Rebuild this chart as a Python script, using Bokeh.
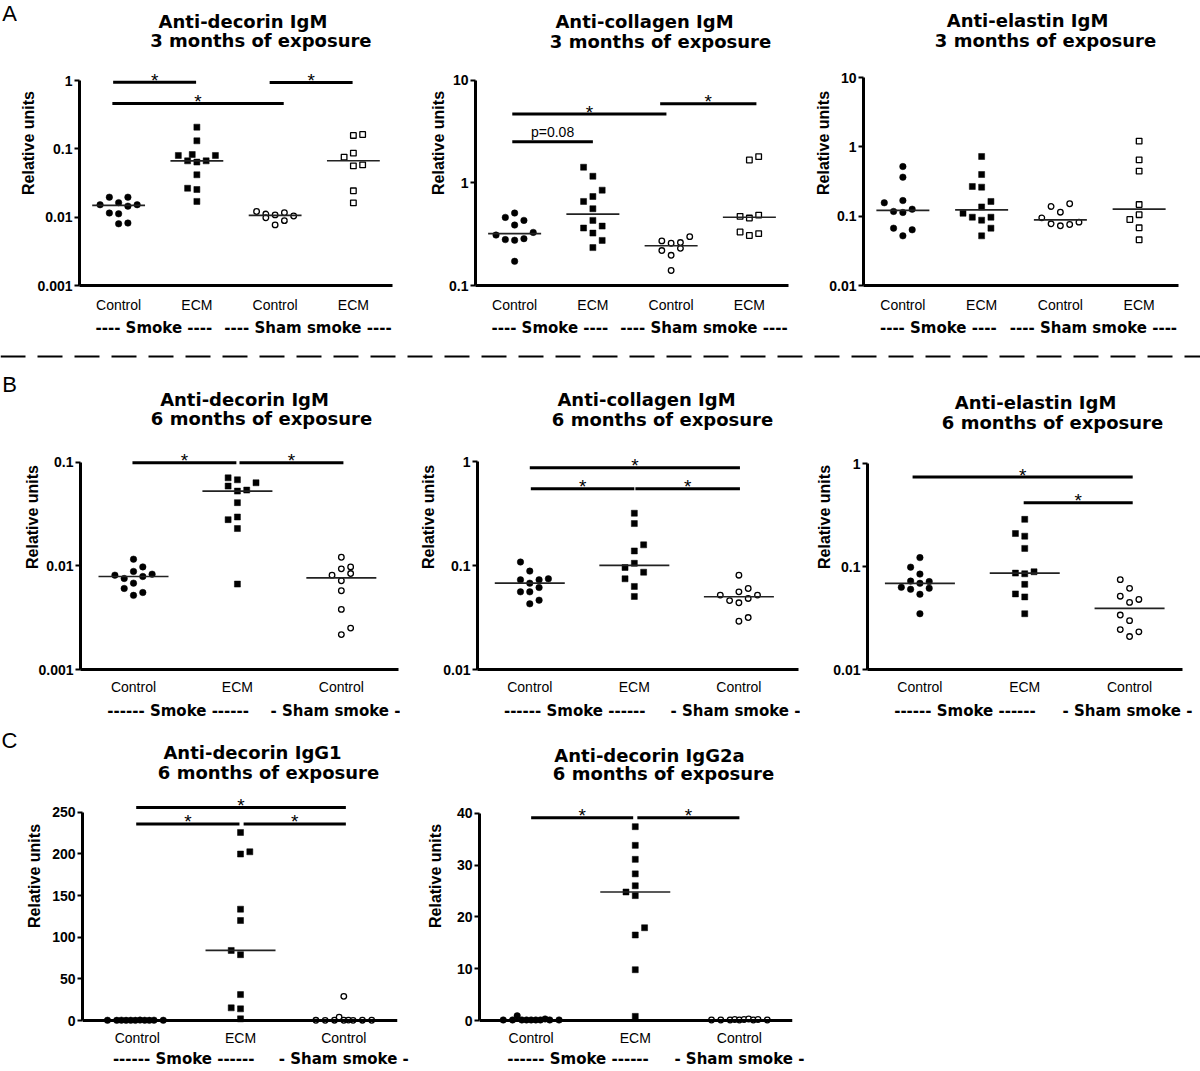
import numpy as np
from bokeh.plotting import figure
from bokeh.models import Range1d, LinearAxis, LogAxis, FixedTicker, Label, Span, CustomJSTickFormatter
from bokeh.layouts import column, row
from bokeh.embed import file_html
from bokeh.resources import INLINE
from bokeh.core.properties import value

# ---------------------------------------------------------------- DATA
CAT4 = ["Control", "ECM", "Control", "ECM"]
CAT3 = ["Control", "ECM", "Control"]
GROUPS_A = ["---- Smoke ----", "---- Sham smoke ----"]
GROUPS_A_POS = [1.45, 3.42]
GROUPS_BC = ["------ Smoke ------", "- Sham smoke -"]
GROUPS_B_POS = [1.43, 2.98]
GROUPS_C_POS = [1.45, 3.0]

# A1  Anti-decorin IgM, 3 months
a1_ctrl = [0.0196, 0.0196, 0.0152, 0.0163, 0.0145, 0.0152, 0.0115, 0.0112, 0.0080, 0.0082]
a1_ctrl_dx = [-1, 1, -2, 0, 1, 2, -1, 0, 0, 1]
a1_ecm = [0.2075, 0.131, 0.080, 0.0826, 0.080, 0.0667, 0.064, 0.0667, 0.0417, 0.0265, 0.0254, 0.0170]
a1_ecm_dx = [0, 0, -2, -0.5, 2, -1, 0, 1, 0, -1, 0, 0]
a1_sham_ctrl = [0.0121, 0.0111, 0.0098, 0.0108, 0.0116, 0.0104, 0.0077, 0.0089]
a1_sham_ctrl_dx = [-2, -1, -1, 0, 1, 2, 0, 1]
a1_sham_ecm = [0.157, 0.162, 0.0755, 0.0865, 0.0564, 0.0583, 0.0243, 0.0162]
a1_sham_ecm_dx = [0, 1, -1, 0, 0, 1, 0, 0]
a1_sig = [(0.93, 1.99, 0.944, "*"), (0.92, 3.11, 0.46, "*"), (2.93, 3.99, 0.935, "*")]

# A2  Anti-collagen IgM, 3 months
a2_ctrl = [0.508, 0.461, 0.431, 0.388, 0.310, 0.329, 0.280, 0.276, 0.286, 0.172]
a2_ctrl_dx = [0, -1, 1, 0, -2, 2, -1, 0, 1, 0]
a2_ecm = [1.42, 1.16, 0.849, 0.736, 0.659, 0.560, 0.431, 0.379, 0.363, 0.324, 0.275, 0.234]
a2_ecm_dx = [-1, 0, 1, 0, -1, 0, 0, 1, -1, 0, 1, 0]
a2_sham_ctrl = [0.299, 0.272, 0.258, 0.262, 0.219, 0.230, 0.197, 0.140]
a2_sham_ctrl_dx = [2, -1, 0, 1, -1, 1, 0, 0]
a2_sham_ecm = [1.67, 1.80, 0.471, 0.454, 0.485, 0.332, 0.307, 0.320]
a2_sham_ecm_dx = [0, 1, -1, 0, 1, -1, 0, 1]
a2_sig = [(0.97, 2.0, 2.52, "p=0.08"), (0.97, 2.94, 4.68, "*"), (2.86, 4.09, 5.89, "*")]

# A3  Anti-elastin IgM, 3 months
a3_ctrl = [0.520, 0.365, 0.156, 0.168, 0.117, 0.113, 0.126, 0.0671, 0.0636, 0.052]
a3_ctrl_dx = [0, 0, -2, 0, -1, 0, 1, -1, 1, 0]
a3_ecm = [0.726, 0.399, 0.268, 0.262, 0.163, 0.136, 0.110, 0.0966, 0.0875, 0.0966, 0.0671, 0.052]
a3_ecm_dx = [0, 0, -1, 0, 1, 0, -2, -1, 0, 1, 1, 0]
a3_sham_ctrl = [0.138, 0.151, 0.114, 0.0946, 0.0776, 0.0726, 0.0758, 0.0819]
a3_sham_ctrl_dx = [-1, 1, 0, -2, -1, 0, 1, 2]
a3_sham_ecm = [1.21, 0.649, 0.446, 0.147, 0.105, 0.0895, 0.0679, 0.0456]
a3_sham_ecm_dx = [0, 0, 0, 0, 0, -1, 0, 0]
a3_sig = []

# B1  Anti-decorin IgM, 6 months
b1_ctrl = [0.01159, 0.00883, 0.00977, 0.00813, 0.00755, 0.00789, 0.00831, 0.00605, 0.00681, 0.00519, 0.00553]
b1_ctrl_dx = [0, 0, 1, -2, -1, 1, 2, -1, 0, 0, 1]
b1_ecm = [0.0706, 0.0676, 0.0633, 0.0588, 0.0526, 0.0538, 0.0407, 0.0279, 0.0296, 0.0229, 0.00667]
b1_ecm_dx = [-1, 0, 2, -1, 0, 1, 0, -1, 0, 0, 0]
b1_sham_ctrl = [0.0121, 0.00935, 0.00977, 0.00813, 0.00843, 0.00718, 0.00575, 0.0038, 0.00251, 0.00217]
b1_sham_ctrl_dx = [0, 0, 1, -1, 1, 0, 0, 0, 1, 0]
b1_sig = [(0.99, 1.99, 0.099, "*"), (2.02, 3.02, 0.099, "*")]

# B2  Anti-collagen IgM, 6 months
b2_ctrl = [0.108, 0.0883, 0.0728, 0.0728, 0.0745, 0.0676, 0.0614, 0.0558, 0.0558, 0.0428, 0.0464]
b2_ctrl_dx = [-1, 0, -1, 1, 2, 0, 1, -1, 0, 0, 1]
b2_ecm = [0.318, 0.253, 0.158, 0.138, 0.105, 0.0957, 0.0862, 0.0745, 0.0629, 0.0504]
b2_ecm_dx = [0, 0, 1, 0, 0, -1, 1, -1, 0, 0]
b2_sham_ctrl = [0.0807, 0.0601, 0.0558, 0.0519, 0.0519, 0.046, 0.0482, 0.0438, 0.0291, 0.0316]
b2_sham_ctrl_dx = [0, 1, 0, -2, 2, -1, 1, 0, 0, 1]
b2_sig = [(1.0, 3.01, 0.87, "*"), (1.01, 2.0, 0.546, "*"), (2.01, 3.01, 0.546, "*")]

# B3  Anti-elastin IgM, 6 months
b3_ctrl = [0.122, 0.0986, 0.0844, 0.0722, 0.0714, 0.0687, 0.0628, 0.0601, 0.0615, 0.0538, 0.0348]
b3_ctrl_dx = [0, -1, 0, -1, 1, 0, -2, -1, 1, 0, 0]
b3_ecm = [0.287, 0.209, 0.197, 0.150, 0.0863, 0.085, 0.0889, 0.0671, 0.0542, 0.0507, 0.0348]
b3_ecm_dx = [0, -1, 0, 0, -1, 0, 1, 0, -1, 0, 0]
b3_sham_ctrl = [0.0745, 0.0614, 0.0515, 0.0479, 0.0448, 0.0338, 0.0298, 0.0244, 0.0232, 0.0209]
b3_sham_ctrl_dx = [-1, 0, -1, 1, 0, -1, 0, -1, 1, 0]
b3_sig = [(0.93, 3.03, 0.739, "*"), (1.99, 3.03, 0.415, "*")]

# C1  Anti-decorin IgG1, 6 months
c1_ctrl = [0.3, 0.2, 0.4, 0.2, 0.3, 0.2, 0.5, 0.3, 0.2, 0.4, 0.3]
c1_ctrl_dx = [-3.2, -2.2, -1.7, -1.2, -0.7, -0.2, 0.3, 0.8, 1.3, 1.8, 2.8]
c1_ecm = [225.7, 199.8, 202.5, 133.6, 120.0, 84.1, 79.0, 31.1, 15.2, 14.0, 2.0]
c1_ecm_dx = [0, 0, 1, 0, 0, -1, 0, 0, -1, 0, 0]
c1_sham_ctrl = [0.3, 0.2, 0.4, 4.0, 0.3, 0.5, 0.2, 0.4, 0.3, 29.0]
c1_sham_ctrl_dx = [-3, -2, -1, -0.5, 0, 0.5, 1, 2, 3, 0]
c1_sig = [(0.99, 3.02, 255.6, "*"), (0.99, 1.99, 236.0, "*"), (2.03, 3.02, 236.0, "*")]

# C2  Anti-decorin IgG2a, 6 months
c2_ctrl = [0.1, 0.1, 0.9, 0.1, 0.1, 0.1, 0.1, 0.1, 0.3, 0.1, 0.1]
c2_ctrl_dx = [-3, -2, -1.5, -1, -0.5, 0, 0.5, 1, 1.5, 2, 3]
c2_ecm = [37.4, 33.8, 31.1, 28.3, 26.0, 24.8, 24.1, 17.9, 16.5, 9.8, 0.8]
c2_ecm_dx = [0, 0, 0, 0, 0, -1, 0, 1, 0, 0, 0]
c2_sham_ctrl = [0.1, 0.1, 0.1, 0.2, 0.1, 0.2, 0.3, 0.1, 0.2, 0.1]
c2_sham_ctrl_dx = [-3, -2, -1, -0.5, 0, 0.5, 1, 1.5, 2, 3]
c2_sig = [(1.0, 1.98, 39.1, "*"), (2.02, 3.0, 39.1, "*")]

# ---------------------------------------------------------------- STYLE
FONT = "Liberation Sans"
WIDE = "DejaVu Sans"
STEP_PX = 9.3
LETTER_W = 17


def lookup_formatter(ticks, labels):
    return CustomJSTickFormatter(
        args=dict(vals=[float(t) for t in ticks], labels=list(labels)),
        code="for (let i = 0; i < vals.length; i++) { if (Math.abs(vals[i] - tick) < 1e-6) { return labels[i]; } } return '';")


def bare_figure(w, h, xr, yr):
    f = figure(width=w, height=h, x_range=Range1d(*xr), y_range=Range1d(*yr),
               x_axis_location=None, y_axis_location=None, toolbar_location=None,
               output_backend="svg", title=None,
               min_border_left=0, min_border_right=0, min_border_top=0, min_border_bottom=0)
    f.outline_line_color = None
    f.grid.visible = False
    return f


def letter_fig(h, y, txt):
    f = bare_figure(LETTER_W, h, (0, LETTER_W), (h, 0))
    f.text(x=[9], y=[y], text=[txt], text_font=value(FONT), text_font_size="22px",
           text_align="center", text_baseline="middle", text_color="black")
    return f


def panel(g, titles, yticks, groups, cats, grp_labels, grp_pos, sig):
    fl, fr = g["left"], g["right"]
    x0, x1 = g["xr"]
    ppu = (fr - fl) / (x1 - x0)

    def xd(px):
        return x0 + (px - fl) / ppu

    lo, hi = g["lo"], g["hi"]
    zero = g["zero"]
    if g["log"]:
        lt, ht = np.log10(lo), np.log10(hi)
        ppd = (zero - g["top"]) / (ht - lt)

        def yd(px):
            return 10 ** (lt + (zero - px) / ppd)

        def yp(v):
            return zero - (np.log10(v) - lt) * ppd
    else:
        ppd = (zero - g["top"]) / (hi - lo)

        def yd(px):
            return lo + (zero - px) / ppd

        def yp(v):
            return zero - (v - lo) * ppd

    bottom = g.get("bottom", zero)
    p = figure(width=g["w"], height=g["h"],
               x_range=Range1d(x0, x1), y_range=Range1d(yd(bottom), yd(g["cy"])),
               y_axis_type="log" if g["log"] else "linear",
               x_axis_location=None, y_axis_location=None,
               toolbar_location=None, output_backend="svg", title=None,
               min_border_left=int(fl - g["cx"]), min_border_right=int(g["cx"] + g["w"] - fr),
               min_border_top=0, min_border_bottom=int(g["cy"] + g["h"] - bottom))
    p.outline_line_color = None
    p.grid.visible = False

    # y axis
    AxisCls = LogAxis if g["log"] else LinearAxis
    ya = AxisCls(ticker=FixedTicker(ticks=yticks), bounds=(lo, hi))
    if g["log"]:
        ya.formatter = CustomJSTickFormatter(code="return String(tick);")
    ya.axis_label = "Relative units"
    ya.axis_label_text_font = FONT
    ya.axis_label_text_font_style = "bold"
    ya.axis_label_text_font_size = "16px"
    ya.axis_label_text_color = "black"
    ya.axis_label_standoff = g["ylab_so"]
    ya.major_label_text_font = FONT
    ya.major_label_text_font_style = "bold"
    ya.major_label_text_font_size = "14px"
    ya.major_label_text_color = "black"
    ya.major_label_standoff = 2
    ya.major_tick_out = 5
    ya.major_tick_in = 0
    ya.major_tick_line_width = 2
    ya.major_tick_line_color = "black"
    ya.minor_tick_out = 0
    ya.minor_tick_in = 0
    ya.axis_line_width = 3
    ya.axis_line_color = "black"
    p.add_layout(ya, "left")

    # category axis
    n = len(cats)
    cticks = list(range(1, n + 1))
    xa = LinearAxis(ticker=FixedTicker(ticks=cticks), formatter=lookup_formatter(cticks, cats))
    xa.major_tick_in = 0
    xa.major_tick_out = 0
    xa.minor_tick_in = 0
    xa.minor_tick_out = 0
    xa.major_label_standoff = g["cat_so"]
    xa.major_label_text_font = FONT
    xa.major_label_text_font_size = "14px"
    xa.major_label_text_color = "black"
    if g["log"]:
        xa.axis_line_width = 3
        xa.axis_line_color = "black"
    else:
        xa.axis_line_color = None
    p.add_layout(xa, "below")

    ga = LinearAxis(ticker=FixedTicker(ticks=grp_pos), formatter=lookup_formatter(grp_pos, grp_labels))
    ga.axis_line_color = None
    ga.major_tick_in = 0
    ga.major_tick_out = 0
    ga.minor_tick_in = 0
    ga.minor_tick_out = 0
    ga.major_label_standoff = g["grp_so"]
    ga.major_label_text_font = WIDE
    ga.major_label_text_font_style = "bold"
    ga.major_label_text_font_size = "15px"
    ga.major_label_text_color = "black"
    p.add_layout(ga, "below")

    if not g["log"]:
        za = LinearAxis(ticker=FixedTicker(ticks=[]), fixed_location=lo)
        za.axis_line_width = 3
        za.axis_line_color = "black"
        za.major_tick_in = 0
        za.major_tick_out = 0
        za.minor_tick_in = 0
        za.minor_tick_out = 0
        za.major_label_standoff = 0
        za.major_label_text_font_size = "0px"
        p.add_layout(za, "below")

    # points + median lines
    mhw = g["med_hw"] / ppu
    for gi, (vals, dx, marker, filled) in enumerate(groups):
        c = gi + 1
        xs = [c + d * STEP_PX / ppu for d in dx]
        if filled:
            p.scatter(xs, vals, marker=marker, size=6.5 if marker == "circle" else 6,
                      fill_color="black", line_color="black", line_width=0.5)
        else:
            p.scatter(xs, vals, marker=marker, size=5.6,
                      fill_color="white", line_color="black", line_width=1.3)
        med = float(np.median(vals))
        p.segment(x0=[c - mhw], x1=[c + mhw], y0=[med], y1=[med], line_width=1.7, line_color="#222222")

    # significance bars
    for (xa0, xa1, yv, txt) in sig:
        p.segment(x0=[xa0], x1=[xa1], y0=[yv], y1=[yv], line_width=3, line_color="black")
        if txt == "*":
            ty = yd(yp(yv) - 2)
            p.text(x=[(xa0 + xa1) / 2], y=[ty], text=[txt], text_font=value(FONT),
                   text_font_size="19px", text_align="center", text_baseline="middle", text_color="black")
        else:
            ty = yd(yp(yv) - 10)
            p.text(x=[(xa0 + xa1) / 2], y=[ty], text=[txt], text_font=value(FONT),
                   text_font_size="14px", text_align="center", text_baseline="middle", text_color="black")

    # titles
    for (tx, ty), txt in zip(g["tpos"], titles):
        p.add_layout(Label(x=xd(tx), y=yd(ty), text=txt, text_align="center", text_baseline="middle",
                           text_font=WIDE, text_font_style="bold", text_font_size="18px",
                           text_color="black"))
    return p


# ---------------------------------------------------------------- LAYOUT (page pixel geometry)
G_A1 = dict(cx=17, cy=0, w=383, h=348, left=78, right=392, zero=285, top=80, log=True, lo=0.001, hi=1,
            xr=(0.5, 4.5), ylab_so=-3, cat_so=11, grp_so=3, med_hw=26.5,
            tpos=[(242, 21), (260, 40)])
G_A2 = dict(cx=400, cy=0, w=400, h=348, left=475, right=788, zero=286, top=80, log=True, lo=0.1, hi=10,
            xr=(0.5, 4.5), ylab_so=-1, cat_so=11, grp_so=3, med_hw=26.5,
            tpos=[(644, 21), (660, 41)])
G_A3 = dict(cx=800, cy=0, w=400, h=348, left=863, right=1178, zero=285, top=77, log=True, lo=0.01, hi=10,
            xr=(0.5, 4.5), ylab_so=-6, cat_so=11, grp_so=3, med_hw=26.5,
            tpos=[(1027, 20), (1045, 40)])
G_B1 = dict(cx=17, cy=364, w=383, h=362, left=80, right=398, zero=670, top=462, log=True, lo=0.001, hi=0.1,
            xr=(0.49, 3.55), ylab_so=-6, cat_so=9, grp_so=4, med_hw=35,
            tpos=[(244, 399), (261, 418)])
G_B2 = dict(cx=400, cy=364, w=400, h=362, left=477, right=798, zero=669, top=461, log=True, lo=0.01, hi=1,
            xr=(0.5, 3.57), ylab_so=3, cat_so=9, grp_so=4, med_hw=35,
            tpos=[(646, 399), (662, 419)])
G_B3 = dict(cx=800, cy=364, w=400, h=362, left=867, right=1182, zero=672, top=464, log=True, lo=0.01, hi=1,
            xr=(0.5, 3.505), ylab_so=-3, cat_so=9, grp_so=4, med_hw=35,
            tpos=[(1035, 402), (1052, 423)])
G_C1 = dict(cx=17, cy=726, w=403, h=344, left=82, right=397, zero=1021, bottom=1026, top=812, log=False,
            lo=0, hi=250, xr=(0.47, 3.52), ylab_so=6, cat_so=4, grp_so=1, med_hw=35,
            tpos=[(252, 752), (268, 772)])
G_C2 = dict(cx=420, cy=726, w=400, h=344, left=479, right=792, zero=1021, bottom=1026, top=813, log=False,
            lo=0, hi=40, xr=(0.504, 3.51), ylab_so=10, cat_so=4, grp_so=1, med_hw=35,
            tpos=[(649, 755), (663, 773)])

pA1 = panel(G_A1, ["Anti-decorin IgM", "3 months of exposure"], [0.001, 0.01, 0.1, 1],
            [(a1_ctrl, a1_ctrl_dx, "circle", True), (a1_ecm, a1_ecm_dx, "square", True),
             (a1_sham_ctrl, a1_sham_ctrl_dx, "circle", False), (a1_sham_ecm, a1_sham_ecm_dx, "square", False)],
            CAT4, GROUPS_A, GROUPS_A_POS, a1_sig)
pA2 = panel(G_A2, ["Anti-collagen IgM", "3 months of exposure"], [0.1, 1, 10],
            [(a2_ctrl, a2_ctrl_dx, "circle", True), (a2_ecm, a2_ecm_dx, "square", True),
             (a2_sham_ctrl, a2_sham_ctrl_dx, "circle", False), (a2_sham_ecm, a2_sham_ecm_dx, "square", False)],
            CAT4, GROUPS_A, GROUPS_A_POS, a2_sig)
pA3 = panel(G_A3, ["Anti-elastin IgM", "3 months of exposure"], [0.01, 0.1, 1, 10],
            [(a3_ctrl, a3_ctrl_dx, "circle", True), (a3_ecm, a3_ecm_dx, "square", True),
             (a3_sham_ctrl, a3_sham_ctrl_dx, "circle", False), (a3_sham_ecm, a3_sham_ecm_dx, "square", False)],
            CAT4, GROUPS_A, GROUPS_A_POS, a3_sig)
pB1 = panel(G_B1, ["Anti-decorin IgM", "6 months of exposure"], [0.001, 0.01, 0.1],
            [(b1_ctrl, b1_ctrl_dx, "circle", True), (b1_ecm, b1_ecm_dx, "square", True),
             (b1_sham_ctrl, b1_sham_ctrl_dx, "circle", False)],
            CAT3, GROUPS_BC, GROUPS_B_POS, b1_sig)
pB2 = panel(G_B2, ["Anti-collagen IgM", "6 months of exposure"], [0.01, 0.1, 1],
            [(b2_ctrl, b2_ctrl_dx, "circle", True), (b2_ecm, b2_ecm_dx, "square", True),
             (b2_sham_ctrl, b2_sham_ctrl_dx, "circle", False)],
            CAT3, GROUPS_BC, GROUPS_B_POS, b2_sig)
pB3 = panel(G_B3, ["Anti-elastin IgM", "6 months of exposure"], [0.01, 0.1, 1],
            [(b3_ctrl, b3_ctrl_dx, "circle", True), (b3_ecm, b3_ecm_dx, "square", True),
             (b3_sham_ctrl, b3_sham_ctrl_dx, "circle", False)],
            CAT3, GROUPS_BC, GROUPS_B_POS, b3_sig)
pC1 = panel(G_C1, ["Anti-decorin IgG1", "6 months of exposure"], [0, 50, 100, 150, 200, 250],
            [(c1_ctrl, c1_ctrl_dx, "circle", True), (c1_ecm, c1_ecm_dx, "square", True),
             (c1_sham_ctrl, c1_sham_ctrl_dx, "circle", False)],
            CAT3, GROUPS_BC, GROUPS_C_POS, c1_sig)
pC2 = panel(G_C2, ["Anti-decorin IgG2a", "6 months of exposure"], [0, 10, 20, 30, 40],
            [(c2_ctrl, c2_ctrl_dx, "circle", True), (c2_ecm, c2_ecm_dx, "square", True),
             (c2_sham_ctrl, c2_sham_ctrl_dx, "circle", False)],
            CAT3, GROUPS_BC, GROUPS_C_POS, c2_sig)

lA = letter_fig(348, 16, "A")
lB = letter_fig(362, 24, "B")
lC = letter_fig(344, 16, "C")

sep = bare_figure(1200, 16, (0, 1), (0, 1))
sep.add_layout(Span(location=0.5, dimension="width", line_color="black", line_width=2, line_dash="25 12"))

layout = column(row(lA, pA1, pA2, pA3), sep, row(lB, pB1, pB2, pB3), row(lC, pC1, pC2))

open("out.html", "w").write(file_html(layout, INLINE))
